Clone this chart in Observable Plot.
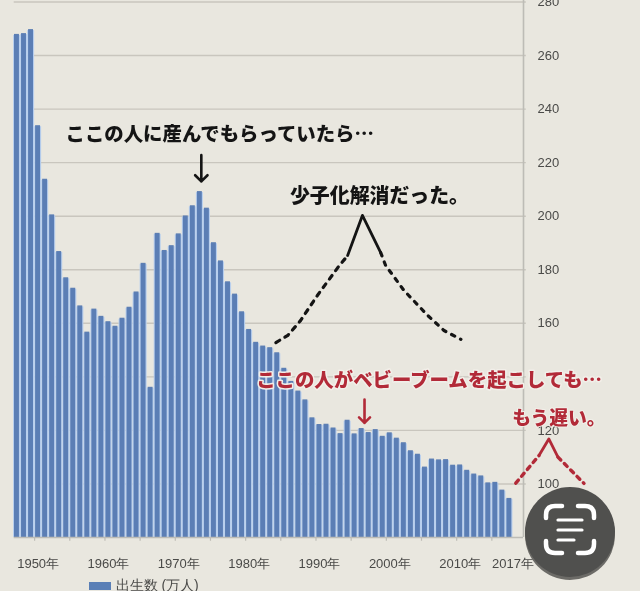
<!DOCTYPE html>
<html lang="ja">
<head>
<meta charset="utf-8">
<script src="https://cdn.jsdelivr.net/npm/d3@7"></script>
<script src="https://cdn.jsdelivr.net/npm/@observablehq/plot@0.6"></script>
<style>
html,body{margin:0;padding:0;background:#e9e7df;overflow:hidden}
svg{display:block;filter:blur(0.45px)}
</style>
</head>
<body>
<div id="chart"></div>
<script>
const firstYear = 1947;
const births = [267.9,268.2,269.7,233.8,213.8,200.5,186.8,177.0,173.1,166.5,156.7,165.3,162.6,160.6,158.9,161.9,166.0,171.7,182.4,136.1,193.6,187.2,189.0,193.4,200.1,203.9,209.2,203.0,190.1,183.3,175.5,170.9,164.3,157.7,152.9,151.5,150.9,149.0,143.2,138.3,134.7,131.4,124.7,122.2,122.3,120.9,118.8,123.8,118.7,120.7,119.2,120.3,117.8,119.1,117.1,115.4,112.4,111.1,106.3,109.3,109.0,109.1,107.0,107.1,105.1,103.7,103.0,100.4,100.6,97.7,94.6];
const rows = births.map((v,i)=>({year:firstYear+i,births:v}));
const yGrid = [100,120,140,160,180,200,220,240,260,280];
const yLabels = [100,120,160,180,200,220,240,260,280];
const xTickMarks = [1949.5,1954.5,1959.5,1964.5,1969.5,1974.5,1979.5,1984.5,1989.5,1994.5,1999.5,2004.5,2009.5,2014.5];
const xLabelPos = [1950,1960,1970,1980,1990,2000,2010,2017.5];
const xLabelText = ["1950年","1960年","1970年","1980年","1990年","2000年","2010年","2017年"];

const blackNote = [
  {x:1953.9,y:230.3,t:"ここの人に産んでもらっていたら…",s:19.4},
  {x:1985.8,y:207.4,t:"少子化解消だった。",s:19.9}
];
const redNote = [
  {x:1981,y:138.6,t:"ここの人がベビーブームを起こしても…",s:19.4},
  {x:2017.4,y:124.3,t:"もう遅い。",s:18.8}
];
const blackDashL = [[1983.8,152.8],[1985.5,155.5],[1987.3,161],[1989.7,170.4],[1992.6,180.8],[1994,185.3]];
const blackDashR = [[1998.7,186.4],[1999.4,181.6],[2002,172.3],[2005.4,162.9],[2007.7,157.3],[2010.1,154]];
const blackApex = [[1994,185.3],[1996.1,200.3],[1998.7,186.4]];
const redDashL = [[2017.9,100.3],[2021.2,110.6]];
const redApex = [[2021.2,110.6],[2022.6,116.8],[2023.9,110]];
const redDashR = [[2023.9,110],[2027.6,100.2]];
const blackArrow = [{x1:1973.2,y1:222.8,x2:1973.2,y2:213}];
const redArrow = [{x1:1996.4,y1:131.5,x2:1996.4,y2:122.8}];

const ink = "#141414", red = "#b22a38", grid = "#c9c6be", axis = "#bdbcb6";
const jp = "'Noto Sans CJK JP'";
const lineOf = (pts,o)=>Plot.line(pts,{x:d=>d[0],y:d=>d[1],curve:"linear",...o});

function lensIcon(){
  const g = d3.create("svg:g");
  g.append("circle").attr("cx",570).attr("cy",535).attr("r",45).attr("fill","#6c6b67");
  g.append("circle").attr("cx",570).attr("cy",532).attr("r",45).attr("fill","#50504e");
  const p = g.append("g").attr("fill","none").attr("stroke","#fff").attr("stroke-width",4.5).attr("stroke-linecap","round");
  p.append("path").attr("d","M546 518v-3q0-9 9-9h7M578 506h7q9 0 9 9v3M546 541v3q0 9 9 9h7M578 553h7q9 0 9-9v-3");
  p.append("path").attr("d","M558 520h24M558 530h24M558 540h16").attr("stroke-width",3.2);
  return g.node();
}
function legendSwatch(){
  return d3.create("svg:rect").attr("x",89).attr("y",582).attr("width",22).attr("height",8).attr("fill","#5a7fb6").node();
}

const chart = Plot.plot({
  width:640, height:591,
  marginLeft:13, marginRight:117, marginTop:1.5, marginBottom:54,
  style:{background:"#e9e7df",fontFamily:"'Liberation Sans',sans-serif",overflow:"hidden"},
  x:{type:"linear",domain:[1946.5,2019],axis:null},
  y:{type:"linear",domain:[80,280],axis:null},
  marks:[
    Plot.ruleY(yGrid,{y:d=>d,x1:1946.6,x2:2019.4,stroke:grid,strokeWidth:1.4}),
    Plot.ruleX([2019],{stroke:axis,strokeWidth:1.6,y1:80,y2:282}),
    Plot.rectY(rows,{x1:d=>d.year-0.5,x2:d=>d.year+0.5,y1:80,y2:"births",fill:"#b8cfee",insetTop:1}),
    Plot.rectY(rows,{x1:d=>d.year-0.5,x2:d=>d.year+0.5,y1:80,y2:"births",fill:"#577bb2",fillOpacity:0.96,insetLeft:1,insetRight:1.1}),
    Plot.ruleY([80],{x1:1946.6,x2:2019,stroke:axis,strokeWidth:1.4}),
    Plot.ruleX(xTickMarks,{x:d=>d,y1:80,y2:78.6,stroke:axis,strokeWidth:1.2}),
    Plot.text(yLabels,{x:2019,y:d=>d,text:d=>String(d),textAnchor:"start",dx:14,fontSize:13,fill:"#4a4a48"}),
    Plot.text(xLabelPos,{x:d=>d,y:80,text:(d,i)=>xLabelText[i],dy:26,fontSize:13,fill:"#4a4a48"}),
    Plot.text(["出生数 (万人)"],{frameAnchor:"bottom-left",dx:102,dy:48,text:d=>d,textAnchor:"start",fontSize:14,fill:"#4a4a48",lineAnchor:"middle"}),
    legendSwatch,
    lineOf(blackDashL,{stroke:ink,strokeWidth:3.2,strokeDasharray:"4.5 6"}),
    lineOf(blackDashR,{stroke:ink,strokeWidth:3.2,strokeDasharray:"3.5 6.5"}),
    lineOf(blackApex,{stroke:ink,strokeWidth:2.8}),
    lineOf(redDashL,{stroke:red,strokeWidth:3.4,strokeDasharray:"4 5"}),
    lineOf(redApex,{stroke:red,strokeWidth:2.8}),
    lineOf(redDashR,{stroke:red,strokeWidth:3.4,strokeDasharray:"4 5"}),
    Plot.arrow(blackArrow,{x1:"x1",y1:"y1",x2:"x2",y2:"y2",stroke:ink,strokeWidth:2.6,headLength:14,headAngle:90,bend:0}),
    Plot.arrow(redArrow,{x1:"x1",y1:"y1",x2:"x2",y2:"y2",stroke:red,strokeWidth:2.6,headLength:14,headAngle:90,bend:0}),
    Plot.text(blackNote,{x:"x",y:"y",text:"t",textAnchor:"start",fontSize:"s",fontWeight:900,fontFamily:jp,fill:ink}),
    Plot.text(redNote.slice(0,1),{x:"x",y:"y",text:"t",textAnchor:"start",fontSize:"s",fontWeight:900,fontFamily:jp,fill:red,stroke:"#f2efe9",strokeWidth:3}),
    Plot.text(redNote.slice(1),{x:"x",y:"y",text:"t",textAnchor:"start",fontSize:"s",fontWeight:900,fontFamily:jp,fill:red,stroke:"#f2efe9",strokeWidth:2}),
    lensIcon
  ]
});
document.getElementById("chart").append(chart);
</script>
</body>
</html>
